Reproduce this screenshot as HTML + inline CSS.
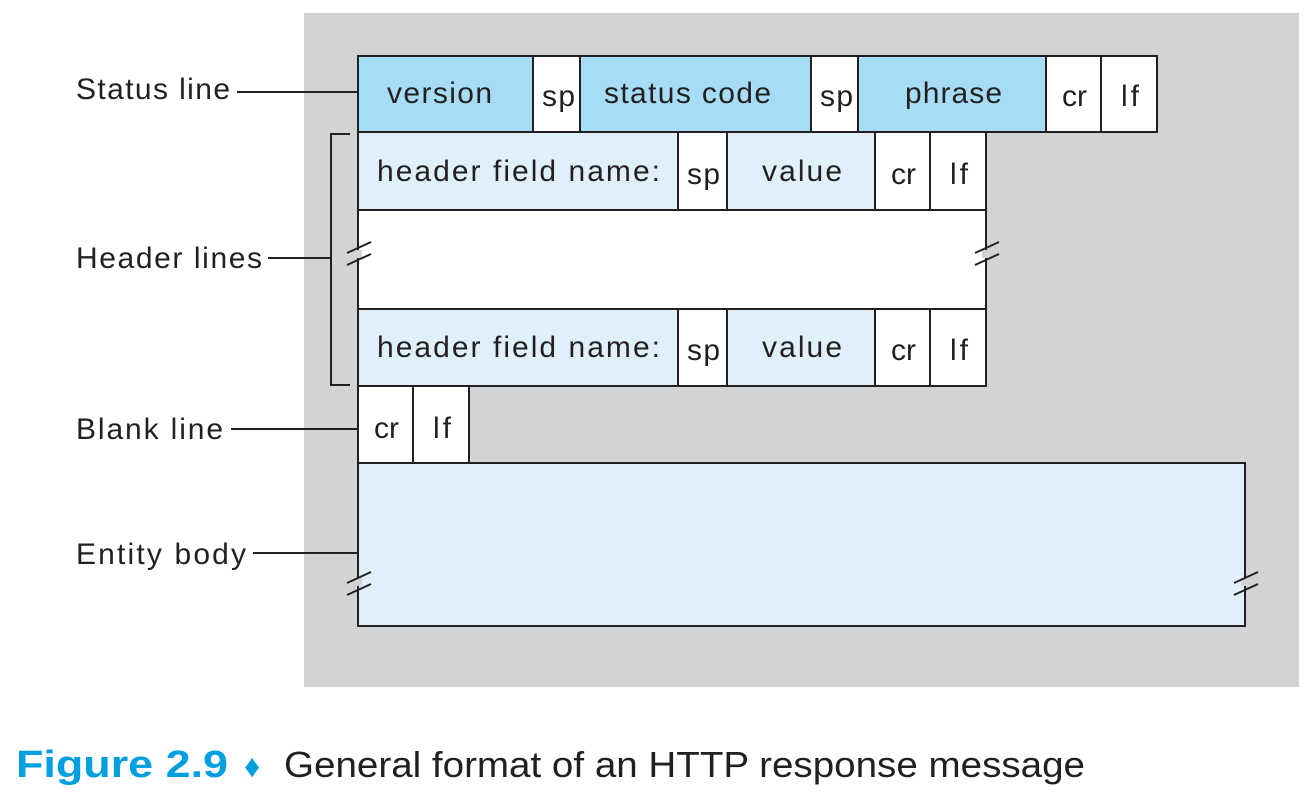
<!DOCTYPE html>
<html><head><style>
body{margin:0;background:#fff;}
svg text{font-family:"Liberation Sans",sans-serif;fill:#231f20;}
</style></head><body>
<svg width="1305" height="799" xmlns="http://www.w3.org/2000/svg">
<rect x="304" y="13" width="995" height="674" fill="#d1d3d4"/>
<g stroke="#231f20" stroke-width="2">
<rect x="358" y="56" width="175" height="76" fill="#a6dcf5"/>
<rect x="533" y="56" width="47" height="76" fill="#fff"/>
<rect x="580" y="56" width="231" height="76" fill="#a6dcf5"/>
<rect x="811" y="56" width="47" height="76" fill="#fff"/>
<rect x="858" y="56" width="188" height="76" fill="#a6dcf5"/>
<rect x="1046" y="56" width="55" height="76" fill="#fff"/>
<rect x="1101" y="56" width="56" height="76" fill="#fff"/>
<rect x="358" y="132" width="320" height="78" fill="#dff0fb"/>
<rect x="678" y="132" width="49" height="78" fill="#fff"/>
<rect x="727" y="132" width="148" height="78" fill="#dff0fb"/>
<rect x="875" y="132" width="55" height="78" fill="#fff"/>
<rect x="930" y="132" width="56" height="78" fill="#fff"/>
<rect x="358" y="210" width="628" height="99" fill="#fff"/>
<rect x="358" y="309" width="320" height="77" fill="#dff0fb"/>
<rect x="678" y="309" width="49" height="77" fill="#fff"/>
<rect x="727" y="309" width="148" height="77" fill="#dff0fb"/>
<rect x="875" y="309" width="55" height="77" fill="#fff"/>
<rect x="930" y="309" width="56" height="77" fill="#fff"/>
<rect x="358" y="386" width="55" height="77" fill="#fff"/>
<rect x="413" y="386" width="56" height="77" fill="#fff"/>
<rect x="358" y="463" width="887" height="163" fill="#dff0fb"/>
<line x1="237" y1="92" x2="358" y2="92"/>
<line x1="268" y1="258" x2="331" y2="258"/>
<line x1="231" y1="429" x2="358" y2="429"/>
<line x1="253" y1="553" x2="358" y2="553"/>
<polyline points="350,134 331,134 331,385 350,385" fill="none"/>
</g>
<g stroke-width="2">
<rect x="354" y="250" width="8" height="8" fill="#d1d3d4"/>
<rect x="982" y="250" width="8" height="8" fill="#d1d3d4"/>
<rect x="354" y="578" width="8" height="8" fill="#d1d3d4"/>
<rect x="1241" y="578" width="8" height="8" fill="#d1d3d4"/>
<g stroke="#231f20">
<line x1="347" y1="253" x2="371" y2="242"/><line x1="347" y1="265" x2="371" y2="254"/>
<line x1="975" y1="253" x2="999" y2="242"/><line x1="975" y1="265" x2="999" y2="254"/>
<line x1="347" y1="583" x2="371" y2="572"/><line x1="347" y1="595" x2="371" y2="584"/>
<line x1="1234" y1="583" x2="1258" y2="572"/><line x1="1234" y1="595" x2="1258" y2="584"/>
</g></g>
<g font-size="30" lengthAdjust="spacingAndGlyphs">
<text x="387" y="103" textLength="105">version</text>
<text x="542" y="106" textLength="33">sp</text>
<text x="604" y="103" textLength="167">status code</text>
<text x="820" y="106" textLength="33">sp</text>
<text x="905" y="103" textLength="97">phrase</text>
<text x="1062" y="106" textLength="25">cr</text>
<text x="1121" y="106" textLength="18">lf</text>
<text x="377" y="181" textLength="283">header field name:</text>
<text x="687" y="184" textLength="33">sp</text>
<text x="762" y="181" textLength="80">value</text>
<text x="891" y="184" textLength="25">cr</text>
<text x="950" y="184" textLength="18">lf</text>
<text x="377" y="357" textLength="283">header field name:</text>
<text x="687" y="360" textLength="33">sp</text>
<text x="762" y="357" textLength="80">value</text>
<text x="891" y="360" textLength="25">cr</text>
<text x="950" y="360" textLength="18">lf</text>
<text x="374" y="438" textLength="25">cr</text>
<text x="433" y="438" textLength="18">lf</text>
<text x="76" y="99" textLength="154">Status line</text>
<text x="76" y="268" textLength="186">Header lines</text>
<text x="76" y="439" textLength="147">Blank line</text>
<text x="76" y="564" textLength="170">Entity body</text>
</g>
<text x="16" y="777" font-size="38" font-weight="bold" textLength="212" lengthAdjust="spacingAndGlyphs" style="fill:#00a0e0">Figure 2.9</text>
<text x="244" y="777" font-size="32" style="fill:#00a0e0">♦</text>
<text x="284" y="777" font-size="36" textLength="801" lengthAdjust="spacingAndGlyphs">General format of an HTTP response message</text>
</svg>
</body></html>
